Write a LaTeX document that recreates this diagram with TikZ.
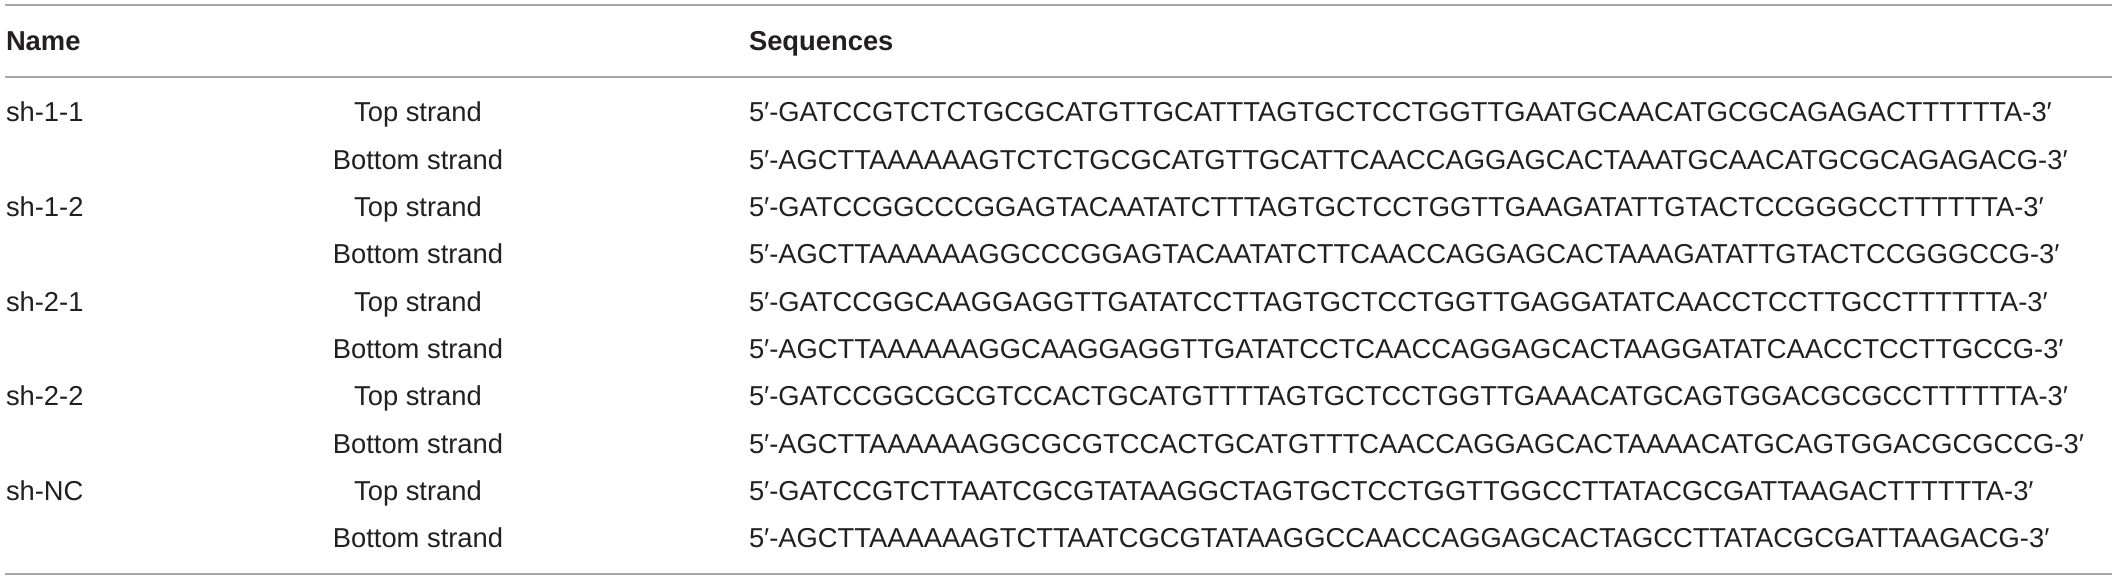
\documentclass[tikz,border=0pt]{standalone}
\usepackage{fontspec}
\setmainfont{Liberation Sans}
\definecolor{txt}{HTML}{231F20}
\definecolor{rulec}{HTML}{A6A6A6}
\tikzset{
  cell/.style={inner sep=0pt, outer sep=0pt, text=txt, font=\fontsize{27.35}{33}\selectfont, anchor=base west},
  head/.style={cell, font=\fontsize{27.35}{33}\selectfont\bfseries},
  strand/.style={cell, anchor=base},
  hrule/.style={draw=rulec, line width=2pt}
}
\begin{document}
\begin{tikzpicture}[x=1pt,y=1pt]
\useasboundingbox (0,0) rectangle (2117,-580);
% rules
\coordinate (r1a) at (5,-5.5); \coordinate (r1b) at (2112,-5.5);
\coordinate (r2a) at (5,-77); \coordinate (r2b) at (2112,-77);
\coordinate (r3a) at (5,-574); \coordinate (r3b) at (2112,-574);
\draw[hrule] (r1a) -- (r1b);
\draw[hrule] (r2a) -- (r2b);
\draw[hrule] (r3a) -- (r3b);
% header
\node[head] (hname) at (6,-51) {Name};
\node[head] (hseq) at (749,-51) {Sequences};
% names
\node[cell] (n1) at (6,-122) {sh-1-1};
\node[cell] (n2) at (6,-216.6) {sh-1-2};
\node[cell] (n3) at (6,-311.2) {sh-2-1};
\node[cell] (n4) at (6,-405.8) {sh-2-2};
\node[cell] (n5) at (6,-500.4) {sh-NC};
% strand labels
\node[strand] (t1) at (418,-122) {Top strand};
\node[strand] (b1) at (418,-169.3) {Bottom strand};
\node[strand] (t2) at (418,-216.6) {Top strand};
\node[strand] (b2) at (418,-263.9) {Bottom strand};
\node[strand] (t3) at (418,-311.2) {Top strand};
\node[strand] (b3) at (418,-358.5) {Bottom strand};
\node[strand] (t4) at (418,-405.8) {Top strand};
\node[strand] (b4) at (418,-453.1) {Bottom strand};
\node[strand] (t5) at (418,-500.4) {Top strand};
\node[strand] (b5) at (418,-547.7) {Bottom strand};
% sequences
\node[cell] (s1t) at (749,-122) {5′-GATCCGTCTCTGCGCATGTTGCATTTAGTGCTCCTGGTTGAATGCAACATGCGCAGAGACTTTTTTA-3′};
\node[cell] (s1b) at (749,-169.3) {5′-AGCTTAAAAAAGTCTCTGCGCATGTTGCATTCAACCAGGAGCACTAAATGCAACATGCGCAGAGACG-3′};
\node[cell] (s2t) at (749,-216.6) {5′-GATCCGGCCCGGAGTACAATATCTTTAGTGCTCCTGGTTGAAGATATTGTACTCCGGGCCTTTTTTA-3′};
\node[cell] (s2b) at (749,-263.9) {5′-AGCTTAAAAAAGGCCCGGAGTACAATATCTTCAACCAGGAGCACTAAAGATATTGTACTCCGGGCCG-3′};
\node[cell] (s3t) at (749,-311.2) {5′-GATCCGGCAAGGAGGTTGATATCCTTAGTGCTCCTGGTTGAGGATATCAACCTCCTTGCCTTTTTTA-3′};
\node[cell] (s3b) at (749,-358.5) {5′-AGCTTAAAAAAGGCAAGGAGGTTGATATCCTCAACCAGGAGCACTAAGGATATCAACCTCCTTGCCG-3′};
\node[cell] (s4t) at (749,-405.8) {5′-GATCCGGCGCGTCCACTGCATGTTTTAGTGCTCCTGGTTGAAACATGCAGTGGACGCGCCTTTTTTA-3′};
\node[cell] (s4b) at (749,-453.1) {5′-AGCTTAAAAAAGGCGCGTCCACTGCATGTTTCAACCAGGAGCACTAAAACATGCAGTGGACGCGCCG-3′};
\node[cell] (s5t) at (749,-500.4) {5′-GATCCGTCTTAATCGCGTATAAGGCTAGTGCTCCTGGTTGGCCTTATACGCGATTAAGACTTTTTTA-3′};
\node[cell] (s5b) at (749,-547.7) {5′-AGCTTAAAAAAGTCTTAATCGCGTATAAGGCCAACCAGGAGCACTAGCCTTATACGCGATTAAGACG-3′};
\end{tikzpicture}
\end{document}
